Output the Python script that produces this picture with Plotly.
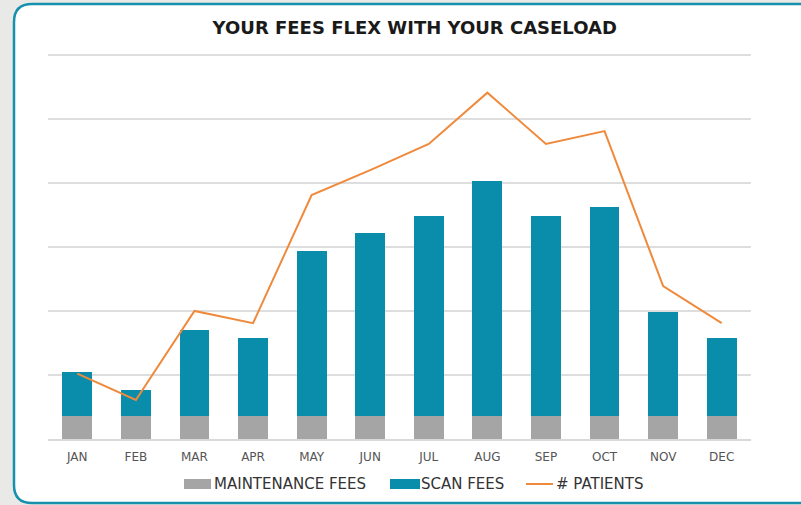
import plotly.graph_objects as go

months = ["JAN", "FEB", "MAR", "APR", "MAY", "JUN", "JUL", "AUG", "SEP", "OCT", "NOV", "DEC"]
maintenance_fees = [0.36] * 12
scan_fees = [0.69, 0.41, 1.34, 1.22, 2.58, 2.86, 3.12, 3.67, 3.12, 3.27, 1.62, 1.22]
patients = [1.02, 0.61, 2.0, 1.81, 3.81, 4.2, 4.61, 5.41, 4.61, 4.81, 2.39, 1.81]
legend_names = ["MAINTENANCE FEES", "SCAN FEES", "# PATIENTS"]
colors = ["#a5a5a5", "#0a8cab", "#ef8a3c"]

W, H = 801, 505
YMAX = 6.03
L, R, B = 48, 50, 66
ph = 384 * YMAX / 6
T = H - B - ph
pw = W - L - R

def px(x):
    return (x - L) / pw

def py(y):
    return (H - B - y) / ph

fig = go.Figure()
fig.add_trace(go.Bar(x=months, y=maintenance_fees, name=legend_names[0],
                     marker=dict(color=colors[0], line=dict(width=0))))
fig.add_trace(go.Bar(x=months, y=scan_fees, name=legend_names[1],
                     marker=dict(color=colors[1], line=dict(width=0))))
fig.add_trace(go.Scatter(x=months, y=patients, name=legend_names[2], mode="lines",
                         line=dict(color=colors[2], width=2)))

# rounded card
x0, x1, y0, y1, r = px(14), px(830), py(4), py(503), 18
rx, ry = r / pw, r / ph
path = (f"M {x0+rx},{y0} L {x1-rx},{y0} Q {x1},{y0} {x1},{y0-ry} "
        f"L {x1},{y1+ry} Q {x1},{y1} {x1-rx},{y1} L {x0+rx},{y1} "
        f"Q {x0},{y1} {x0},{y1+ry} L {x0},{y0-ry} Q {x0},{y0} {x0+rx},{y0} Z")
fig.add_shape(type="path", path=path, xref="paper", yref="paper", layer="below",
              fillcolor="white", line=dict(color="#1690ad", width=2.5))

# manual legend
ly = 484
fig.add_shape(type="rect", xref="paper", yref="paper", x0=px(184), x1=px(211),
              y0=py(489), y1=py(479), fillcolor=colors[0], line=dict(width=0))
fig.add_shape(type="rect", xref="paper", yref="paper", x0=px(390), x1=px(420),
              y0=py(489), y1=py(479), fillcolor=colors[1], line=dict(width=0))
fig.add_shape(type="line", xref="paper", yref="paper", x0=px(526), x1=px(553),
              y0=py(ly), y1=py(ly), line=dict(color=colors[2], width=2))
for name, xs in zip(legend_names, [212, 419, 554]):
    fig.add_annotation(text=name, xref="paper", yref="paper", x=px(xs), y=py(ly),
                       xanchor="left", yanchor="middle", showarrow=False,
                       font=dict(family="DejaVu Sans", size=15, color="#333"))

fig.update_layout(
    width=W, height=H,
    margin=dict(l=L, r=R, t=T, b=B),
    paper_bgcolor="#e9e9e7", plot_bgcolor="rgba(0,0,0,0)",
    barmode="stack", bargap=0.49,
    title=dict(text="<b>YOUR FEES FLEX WITH YOUR CASELOAD</b>", x=px(412), xanchor="center",
               y=1 - 28 / H, yanchor="middle",
               font=dict(family="DejaVu Sans", size=18, color="#1a1a1a")),
    font=dict(family="DejaVu Sans", color="#444"),
    xaxis=dict(showgrid=False, showline=True, linecolor="#d9d9d9", linewidth=1.5,
               tickfont=dict(family="DejaVu Sans", size=12, color="#555"), ticks="",
               ticklabelstandoff=6, fixedrange=True),
    yaxis=dict(range=[0, YMAX], dtick=1, showticklabels=False, showgrid=True,
               gridcolor="#dedede", gridwidth=1.5, zeroline=False, fixedrange=True),
    showlegend=False,
)

fig.write_html("out.html")
